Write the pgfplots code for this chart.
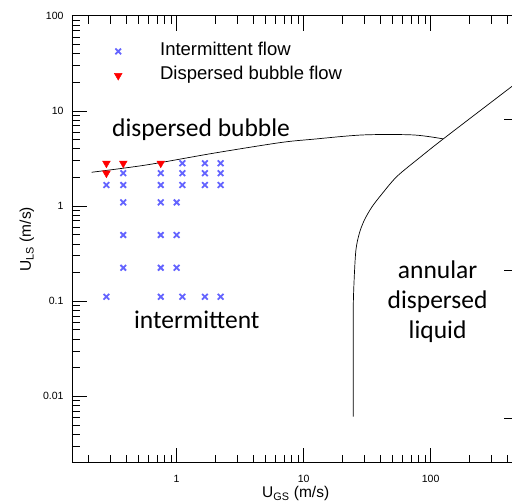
\documentclass[border=0pt]{standalone}
\usepackage{fontspec}
\setmainfont{Liberation Sans}
\newfontfamily\calib{Carlito}
\usepackage{pgfplots}
\pgfplotsset{compat=1.18}

\definecolor{xblue}{RGB}{100,100,255}

\begin{document}
\begin{tikzpicture}
\begin{axis}[
    xmode=log, ymode=log,
    scale only axis,
    width=447.4pt, height=447pt,
    xmin=0.15, xmax=500,
    ymin=0.002, ymax=100,
    xtick={1,10,100}, xticklabels={1,10,100},
    ytick={0.01,0.1,1,10,100}, yticklabels={0.01,0.1,1,10,100},
    tick align=inside,
    ytick pos=left,
    tickwidth=0pt,
    subtickwidth=0pt,
    axis line style={line width=0.6pt},
    tick label style={font=\fontsize{10.5}{12}\selectfont},
    yticklabel style={xshift=-5pt},
    xticklabel style={yshift=-9pt},
    xlabel={U\textsubscript{GS} (m/s)},
    ylabel={U\textsubscript{LS} (m/s)},
    label style={font=\fontsize{15.5}{17}\selectfont},
    xlabel style={yshift=3pt},
    ylabel style={yshift=2pt},
    legend style={draw=none, fill=none, inner sep=0pt,
        at={(0.0785,0.9435)}, anchor=north west,
        font=\fontsize{18.5}{21}\selectfont,
        nodes={inner sep=2pt, text height=12.5pt, text depth=4pt},
        row sep=3.7pt},
    legend cell align=left,
    legend image code/.code={\path (0pt,0pt) (49pt,0pt);
        \draw[mark repeat=2,mark phase=2,#1] plot coordinates {(0pt,0pt) (10pt,0pt) (49pt,0pt)};},
]
\addplot[only marks, mark=x, mark size=4pt, color=xblue, line width=1.8pt] coordinates {
    (0.28,1.66) (0.28,0.111)
    (0.38,2.21) (0.38,1.66) (0.38,1.09) (0.38,0.495) (0.38,0.224)
    (0.75,2.21) (0.75,1.66) (0.75,1.09) (0.75,0.495) (0.75,0.224) (0.75,0.111)
    (1.0,1.09) (1.0,0.495) (1.0,0.224)
    (1.11,2.81) (1.11,2.21) (1.11,1.66) (1.11,0.111)
    (1.67,2.81) (1.67,2.21) (1.67,1.66) (1.67,0.111)
    (2.22,2.81) (2.22,2.21) (2.22,1.66) (2.22,0.111)
};
\addlegendentry{Intermittent flow}
\addplot[only marks, mark=triangle*, mark size=4.5pt, color=red, mark options={rotate=180}] coordinates {
    (0.28,2.81) (0.28,2.21) (0.38,2.81) (0.75,2.81)
};
\addlegendentry{Dispersed bubble flow}
% dispersed bubble boundary
\addplot[black, line width=0.7pt, smooth, forget plot] coordinates {
    (0.214,2.26) (0.58,2.70) (1.94,3.58) (6.51,4.63) (11.9,5.03)
    (29.4,5.58) (72.9,5.58) (125.7,5.07)
};
% annular boundary
\addplot[black, line width=0.7pt, smooth, forget plot] coordinates {
    (24.58,0.006087) (24.58,0.02) (24.58,0.0806) (24.98,0.1667) (25.81,0.3446)
    (27.51,0.5201) (30.11,0.7125) (34.50,0.9761) (41.35,1.337) (54.29,2.043)
    (82.36,3.236) (125.7,5.064) (434.3,17.97) (500,20.75)
};
\node[font=\calib\fontsize{25.5}{30}\selectfont, anchor=base west, inner sep=0pt] at (axis cs:0.31,5.32) {dispersed bubble};
\node[font=\calib\fontsize{25.5}{30}\selectfont, anchor=base west, inner sep=0pt] at (axis cs:0.461,0.0521) {intermittent};
\node[font=\calib\fontsize{25.5}{30}\selectfont, align=center, inner sep=0pt] at (axis cs:113.5,0.0985) {annular\\dispersed\\liquid};
% tick marks (inside), bottom and top
\pgfplotsinvokeforeach{1,10,100}{
    \draw[black, line width=0.5pt] (axis cs:#1,0.002) -- ++(0pt,15pt);
    \draw[black, line width=0.5pt] (axis cs:#1,100) -- ++(0pt,-15pt);
}
\pgfplotsinvokeforeach{0.2,0.3,0.4,0.5,0.6,0.7,0.8,0.9,2,3,4,5,6,7,8,9,20,30,40,50,60,70,80,90,200,300,400}{
    \draw[black, line width=0.5pt] (axis cs:#1,0.002) -- ++(0pt,8pt);
    \draw[black, line width=0.5pt] (axis cs:#1,100) -- ++(0pt,-8pt);
}
% tick marks (inside), left
\pgfplotsinvokeforeach{0.01,0.1,1,10,100}{
    \draw[black, line width=0.5pt] (axis cs:0.15,#1) -- ++(15pt,0pt);
}
\pgfplotsinvokeforeach{0.002,0.003,0.004,0.005,0.006,0.007,0.008,0.009,0.02,0.03,0.04,0.05,0.06,0.07,0.08,0.09,
    0.2,0.3,0.4,0.5,0.6,0.7,0.8,0.9,2,3,4,5,6,7,8,9,20,30,40,50,60,70,80,90}{
    \draw[black, line width=0.5pt] (axis cs:0.15,#1) -- ++(8pt,0pt);
}
\end{axis}
% right-hand axis ticks of the original figure
\begin{axis}[
    ymode=log, scale only axis, width=447.4pt, height=447pt,
    xmin=0, xmax=1, ymin=0.002, ymax=100,
    axis x line=none, axis y line*=right,
    ytick={0.00589,0.212,8.22}, yticklabels={},
    tick align=inside, tickwidth=15pt, subtickwidth=0pt,
    every tick/.style={black, line width=0.5pt},
    axis line style={line width=0.6pt},
]
\end{axis}
\pgfresetboundingbox
\path ([xshift=-72pt,yshift=-40pt]current axis.south west) rectangle ([xshift=440pt,yshift=15.7pt]current axis.north west);
\end{tikzpicture}
\end{document}
